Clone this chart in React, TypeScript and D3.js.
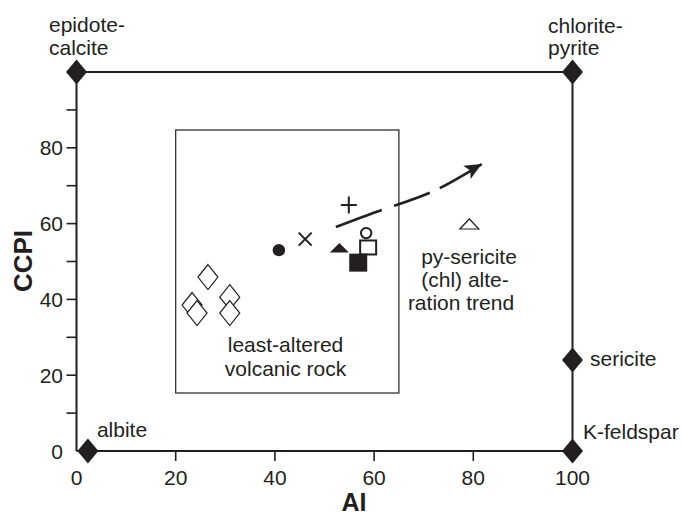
import React from "react";
import * as d3 from "d3";

// ---------- data ----------
const xTickLabels = [0, 20, 40, 60, 80, 100];
const xTickMarks = [20, 40, 60, 80];
const yTickLabels = [0, 20, 40, 60, 80];
const yTickMarks = [10, 20, 30, 40, 50, 60, 70, 80, 90];

// end-member minerals (AI, CCPI)
const endMemberNames = [["epidote-", "calcite"], ["chlorite-", "pyrite"], ["sericite"], ["K-feldspar"], ["albite"]];
const endMemberAI = [0, 100, 100, 100, 2.3];
const endMemberCCPI = [100, 100, 24, 0, 0];

// least-altered samples (open diamonds)
const leastAlteredAI = [26.5, 23.3, 24.3, 30.9, 30.9];
const leastAlteredCCPI = [45.9, 38.5, 36.4, 40.6, 36.4];

// other samples
const filledCircle = { ai: 40.8, ccpi: 53.0 };
const crossMark = { ai: 46.1, ccpi: 55.9 };
const plusMark = { ai: 54.9, ccpi: 64.9 };
const filledTriangle = { ai: 53.0, ccpi: 53.6 };
const filledSquare = { ai: 56.8, ccpi: 49.7 };
const openSquare = { ai: 58.8, ccpi: 53.7 };
const openCircle = { ai: 58.4, ccpi: 57.5 };
const openTriangle = { ai: 79.2, ccpi: 59.9 };

// least-altered field box
const boxAI = [20, 65];
const boxCCPI = [15.3, 84.7];

// alteration trend arrow
const trendAI = [52.3, 62, 72, 81.7];
const trendCCPI = [59.1, 63.8, 68.6, 75.7];

const leastLabel = ["least-altered", "volcanic rock"];
const trendLabel = ["py-sericite", "(chl) alte-", "ration trend"];

// ---------- component ----------
const INK = "#231f20";
const FONT = "Arial, 'Liberation Sans', Helvetica, sans-serif";

function diamond(cx: number, cy: number, hw: number, hh: number) {
  return `M${cx},${cy - hh}L${cx + hw},${cy}L${cx},${cy + hh}L${cx - hw},${cy}Z`;
}

export default function App() {
  const x = d3.scaleLinear().domain([0, 100]).range([76.5, 572.5]);
  const y = d3.scaleLinear().domain([0, 100]).range([451, 72]);

  const trendPts: [number, number][] = trendAI.map((a, i) => [x(a), y(trendCCPI[i])]);
  const trendPath = d3.line().curve(d3.curveNatural)(trendPts) || "";
  const tip = trendPts[trendPts.length - 1];
  const prev = trendPts[trendPts.length - 2];
  const dxv = tip[0] - prev[0];
  const dyv = tip[1] - prev[1];
  const len = Math.hypot(dxv, dyv);
  const ux = dxv / len, uy = dyv / len;
  const nx = -uy, ny = ux;
  const headL = 17, headW = 7.5, notch = 13;
  const head = [
    [tip[0], tip[1]],
    [tip[0] - headL * ux + headW * nx, tip[1] - headL * uy + headW * ny],
    [tip[0] - notch * ux, tip[1] - notch * uy],
    [tip[0] - headL * ux - headW * nx, tip[1] - headL * uy - headW * ny],
  ];

  // label offsets for end members
  const emOffsets = [
    { dx: -27.5, dy: [-40, -17] },
    { dx: -24.5, dy: [-39, -17] },
    { dx: 17.5, dy: [6] },
    { dx: 10.5, dy: [-12] },
    { dx: 9, dy: [-14] },
  ];

  const tri = (cx: number, cy: number, w: number, h: number) =>
    `M${cx - w / 2},${cy + h / 2}L${cx + w / 2},${cy + h / 2}L${cx},${cy - h / 2}Z`;

  return (
    <svg
      width={683}
      height={518}
      style={{ position: "absolute", left: 0, top: 0, background: "#fff" }}
      fontFamily={FONT}
    >
      <rect x={0} y={0} width={683} height={518} fill="#fff" />

      {/* frame */}
      <g stroke={INK} strokeWidth={2} fill="none">
        <line x1={x(0)} y1={y(0)} x2={x(100)} y2={y(0)} />
        <line x1={x(0)} y1={y(0)} x2={x(0)} y2={y(100)} />
        <line x1={x(0)} y1={y(100)} x2={x(100)} y2={y(100)} />
        <line x1={x(100)} y1={y(100)} x2={x(100)} y2={y(0)} />
      </g>

      {/* ticks */}
      <g stroke={INK} strokeWidth={1.6}>
        {yTickMarks.map((v) => (
          <line key={"yt" + v} x1={x(0) - 10} x2={x(0)} y1={y(v)} y2={y(v)} />
        ))}
        {xTickMarks.map((v) => (
          <line key={"xt" + v} x1={x(v)} x2={x(v)} y1={y(0)} y2={y(0) + 10} />
        ))}
      </g>
      <g fill={INK} fontSize={21}>
        {yTickLabels.map((v) => (
          <text key={"yl" + v} x={63} y={y(v)} dy="0.36em" textAnchor="end">
            {v}
          </text>
        ))}
        {xTickLabels.map((v) => (
          <text key={"xl" + v} x={x(v)} y={485} textAnchor="middle">
            {v}
          </text>
        ))}
      </g>

      {/* axis titles */}
      <text x={354} y={511} textAnchor="middle" fontSize={25} fontWeight="bold" fill={INK}>
        AI
      </text>
      <text
        transform={`translate(32,261) rotate(-90)`}
        textAnchor="middle"
        fontSize={26}
        fontWeight="bold"
        fill={INK}
      >
        CCPI
      </text>

      {/* least-altered box */}
      <rect
        x={x(boxAI[0])}
        y={y(boxCCPI[1])}
        width={x(boxAI[1]) - x(boxAI[0])}
        height={y(boxCCPI[0]) - y(boxCCPI[1])}
        fill="none"
        stroke={INK}
        strokeWidth={1.2}
      />

      {/* end members */}
      {endMemberAI.map((a, i) => (
        <g key={"em" + i}>
          <path d={diamond(x(a), y(endMemberCCPI[i]), 10.5, 12.5)} fill={INK} />
          {endMemberNames[i].map((t, j) => (
            <text
              key={j}
              x={x(a) + emOffsets[i].dx}
              y={y(endMemberCCPI[i]) + emOffsets[i].dy[j]}
              fontSize={21}
              fill={INK}
            >
              {t}
            </text>
          ))}
        </g>
      ))}

      {/* least-altered samples */}
      {leastAlteredAI.map((a, i) => (
        <path
          key={"ld" + i}
          d={diamond(x(a), y(leastAlteredCCPI[i]), 10, 12.5)}
          fill="#fff"
          stroke={INK}
          strokeWidth={1.2}
        />
      ))}

      {/* trend arrow */}
      <path
        d={trendPath}
        fill="none"
        stroke={INK}
        strokeWidth={2.6}
        strokeDasharray="49 13 38 11 200"
      />
      <path d={"M" + head.map((p) => p.join(",")).join("L") + "Z"} fill={INK} />

      {/* samples */}
      <circle cx={x(filledCircle.ai)} cy={y(filledCircle.ccpi)} r={6.2} fill={INK} />
      <g stroke={INK} strokeWidth={2}>
        <line
          x1={x(crossMark.ai) - 6.5}
          y1={y(crossMark.ccpi) - 6.5}
          x2={x(crossMark.ai) + 6.5}
          y2={y(crossMark.ccpi) + 6.5}
        />
        <line
          x1={x(crossMark.ai) + 6.5}
          y1={y(crossMark.ccpi) - 6.5}
          x2={x(crossMark.ai) - 6.5}
          y2={y(crossMark.ccpi) + 6.5}
        />
        <line x1={x(plusMark.ai) - 8} y1={y(plusMark.ccpi)} x2={x(plusMark.ai) + 8} y2={y(plusMark.ccpi)} />
        <line x1={x(plusMark.ai)} y1={y(plusMark.ccpi) - 8.5} x2={x(plusMark.ai)} y2={y(plusMark.ccpi) + 8.5} />
      </g>
      <path d={tri(x(filledTriangle.ai), y(filledTriangle.ccpi), 19, 9.5)} fill={INK} />
      <rect
        x={x(openSquare.ai) - 8}
        y={y(openSquare.ccpi) - 7}
        width={16}
        height={14}
        fill="#fff"
        stroke={INK}
        strokeWidth={2}
      />
      <rect x={x(filledSquare.ai) - 9} y={y(filledSquare.ccpi) - 9} width={18} height={18} fill={INK} />
      <circle
        cx={x(openCircle.ai)}
        cy={y(openCircle.ccpi)}
        r={5.2}
        fill="#fff"
        stroke={INK}
        strokeWidth={2}
      />
      <path
        d={tri(x(openTriangle.ai), y(openTriangle.ccpi), 19, 10)}
        fill="#fff"
        stroke={INK}
        strokeWidth={1.2}
      />

      {/* annotations */}
      <g fontSize={21} fill={INK} textAnchor="middle">
        {leastLabel.map((t, i) => (
          <text key={"ll" + i} x={285.5} y={352 + i * 24}>
            {t}
          </text>
        ))}
        {trendLabel.map((t, i) => (
          <text key={"tl" + i} x={469 - i * 4} y={264 + i * 23}>
            {t}
          </text>
        ))}
      </g>
    </svg>
  );
}
